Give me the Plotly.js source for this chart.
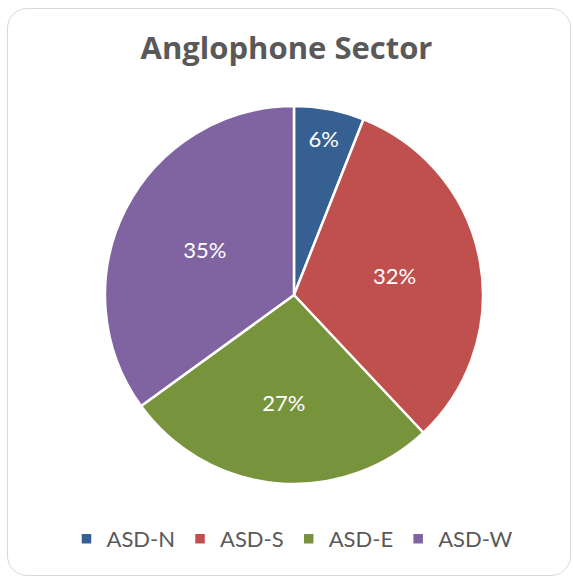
<!DOCTYPE html>
<html>
<head>
<meta charset="utf-8">
<script src="https://cdn.plot.ly/plotly-3.0.1.min.js"></script>
<style>
  html, body { margin:0; padding:0; background:#fff; }
  #wrap { position:relative; width:573px; height:577px; }
  #frame { position:absolute; left:7px; top:8px; width:564px; height:568px; border:1px solid #D9D9D9; border-radius:20px; pointer-events:none; box-sizing:border-box; }
  #chart { position:absolute; left:0; top:0; width:573px; height:577px; }
</style>
</head>
<body>
<div id="wrap">
  <div id="chart"></div>
  <div id="frame"></div>
</div>
<script>
const categories = ["ASD-N", "ASD-S", "ASD-E", "ASD-W"];
const values = [6, 32, 27, 35];
const colors = ["#376092", "#C0504D", "#77933C", "#8064A2"];
const titleText = "Anglophone Sector";

const trace = {
  type: "pie",
  labels: categories,
  values: values,
  sort: false,
  direction: "clockwise",
  rotation: 0,
  marker: { colors: colors, line: { color: "#FFFFFF", width: 2.5 } },
  textinfo: "percent",
  textposition: "inside",
  insidetextorientation: "horizontal",
  textfont: { family: "Lato, 'Open Sans', sans-serif", size: 22, color: "#FFFFFF" },
  hoverinfo: "label+percent",
  domain: { x: [0.1832, 0.8429], y: [0.1612, 0.8163] }
};

const layout = {
  width: 573,
  height: 577,
  margin: { l: 0, r: 0, t: 0, b: 0 },
  paper_bgcolor: "rgba(0,0,0,0)",
  plot_bgcolor: "rgba(0,0,0,0)",
  title: {
    text: "<b>" + titleText + "</b>",
    font: { family: "'Open Sans', sans-serif", size: 31, color: "#595959" },
    x: 0.5, xanchor: "center",
    y: 1 - 48/577, yanchor: "middle", yref: "paper"
  },
  showlegend: true,
  legend: {
    orientation: "h",
    x: 0.5 + 6/573, xanchor: "center",
    y: 1 - 539/577, yanchor: "middle",
    font: { family: "Lato, 'Open Sans', sans-serif", size: 22, color: "#595959" },
    itemwidth: 30,
    traceorder: "normal"
  }
};

Plotly.newPlot("chart", [trace], layout, { displayModeBar: false, staticPlot: true });
</script>
</body>
</html>
